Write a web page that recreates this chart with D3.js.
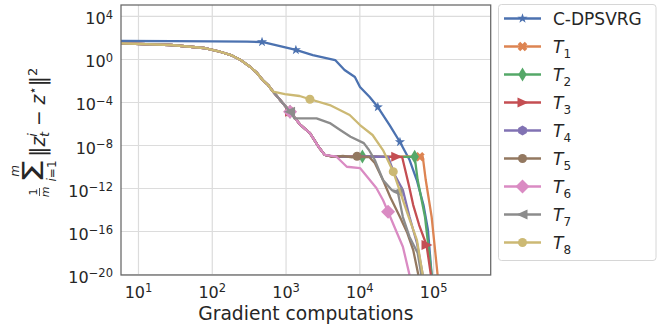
<!DOCTYPE html>
<html>
<head>
<meta charset="utf-8">
<script src="https://cdn.jsdelivr.net/npm/d3@7"></script>
<style>
  body { margin: 0; background: #fff; }
  svg { font-family: 'DejaVu Sans', sans-serif; }
</style>
</head>
<body>
<div id="chart"></div>
<script>
// tick exponents (labels are 10^e)
const xTickExps = [1, 2, 3, 4, 5];
const yTickExps = [4, 0, -4, -8, -12, -16, -20];

// [gradient computations, error]
const cdpsvrg = [[5, 47], [30, 46], [100, 44], [300, 41], [480, 38], [1380, 6.9], [2340, 2.3],
  [4700, 0.8], [6300, 0.095], [8700, 0.021], [10200, 2.5e-3], [13800, 2.9e-4], [17800, 3.4e-5],
  [25700, 7.2e-7], [35500, 1.9e-8], [48000, 4e-10], [60000, 5.5e-12], [74000, 2.6e-14],
  [85000, 1.3e-16], [95500, 8e-21]];

// part shared by every T_k run
const warmup = [[5, 29], [28, 20], [78, 10.5], [120, 5.5], [182, 2.3], [250, 0.75], [330, 0.19],
  [410, 0.05], [490, 1.1e-2], [580, 3.8e-3], [680, 9e-4]];
// shared by T_1 .. T_7
const split = [[1150, 1.26e-5]];
// shared by T_1 .. T_6
const earlyDrop = [[1550, 8.9e-7], [2140, 1.3e-7], [2880, 5.2e-9], [3390, 1.2e-9]];

const t1Tail = [[4500, 8e-10], [20000, 8e-10], [45000, 8.5e-10], [66100, 8e-10], [72400, 8e-10],
  [79400, 5.5e-12], [95500, 2e-15], [115000, 8e-21]];
const t2Tail = [[4500, 8e-10], [11000, 8.5e-10], [25000, 8e-10], [56200, 8e-10], [61700, 5.5e-12],
  [77600, 2e-15], [95500, 8e-21]];
const t3Tail = [[4500, 8e-10], [10000, 8.5e-10], [20000, 8e-10], [31600, 8e-10], [38000, 7.5e-10],
  [46800, 1.9e-12], [53700, 2.6e-14], [64600, 3.6e-16], [81300, 5e-18], [93300, 8e-21]];
const t4Tail = [[4500, 8.5e-10], [8000, 8e-10], [14000, 8.5e-10], [24500, 8e-10], [30200, 1.6e-11],
  [38900, 6.5e-13], [47900, 2e-15], [60300, 7.6e-18], [72400, 8e-21]];
const t5Tail = [[4500, 8e-10], [6000, 9.5e-10], [8000, 7e-10], [9300, 9e-10], [12000, 7.5e-10],
  [13500, 8e-10], [16200, 2.1e-10], [20900, 5.5e-12], [26300, 1.4e-13], [35500, 2e-15],
  [44700, 6.5e-17], [53700, 1.7e-18], [63100, 8e-21]];
const t6Tail = [[4900, 8.1e-10], [6760, 9.5e-11], [10200, 7.2e-11], [17000, 1e-12], [20900, 7.6e-14],
  [24500, 6.3e-15], [32400, 6.5e-17], [38900, 3.5e-18], [47900, 8e-21]];
const t7Tail = [[1320, 3e-6], [2630, 3e-6], [3980, 1.1e-6], [5500, 2.5e-7], [7600, 5.9e-8],
  [11500, 1.5e-8], [13500, 3.4e-9], [16200, 4e-10], [20900, 5.5e-12], [27500, 6.5e-13],
  [33100, 4.6e-13], [38900, 2e-15], [47900, 2.8e-17], [61700, 9e-19], [69200, 8e-21]];
const t8Tail = [[980, 5.5e-4], [1550, 3.6e-4], [2140, 1.8e-4], [3980, 5.2e-5], [7400, 6.2e-6],
  [10200, 7.2e-7], [15100, 8.5e-8], [20900, 3.4e-9], [28800, 3.3e-11], [44700, 4.7e-15],
  [60300, 1.4e-17], [72400, 8e-21]];

const names = ['C-DPSVRG', 'T_1', 'T_2', 'T_3', 'T_4', 'T_5', 'T_6', 'T_7', 'T_8'];
const seriesPoints = [
  cdpsvrg,
  [...warmup, ...split, ...earlyDrop, ...t1Tail],
  [...warmup, ...split, ...earlyDrop, ...t2Tail],
  [...warmup, ...split, ...earlyDrop, ...t3Tail],
  [...warmup, ...split, ...earlyDrop, ...t4Tail],
  [...warmup, ...split, ...earlyDrop, ...t5Tail],
  [...warmup, ...split, ...earlyDrop, ...t6Tail],
  [...warmup, ...split, ...t7Tail],
  [...warmup, ...t8Tail]
];
// x positions where a marker sits
const markAt = [
  [480, 1380, 17800, 35500],
  [1150, 66100],
  [1150, 11000, 56200],
  [1150, 31600, 81300],
  [1150],
  [1150, 9300],
  [1150, 24500],
  [1150, 33100],
  [2140, 28800]
];

const colors = ['#4c72b0', '#dd8452', '#55a868', '#c44e52', '#8172b3', '#937860', '#da8bc3', '#8c8c8c', '#ccb974'];
const shapes = ['star', 'X', 'd', '>', 'h', 'o', 'D', '<', 'o'];

const W = 666, H = 328;
const plot = { left: 121, right: 490.7, top: 5, bottom: 275 };

const svg = d3.select('#chart').append('svg')
  .attr('width', W).attr('height', H);

const x = d3.scaleLog()
  .domain([Math.pow(10, 0.77), Math.pow(10, 5.78)])
  .range([plot.left, plot.right]);
const y = d3.scaleLog()
  .domain([Math.pow(10, -20.09), Math.pow(10, 5.02)])
  .range([plot.bottom, plot.top]);

function markerPath(shape) {
  const p = d3.path();
  const poly = pts => { pts.forEach((q, i) => i ? p.lineTo(q[0], q[1]) : p.moveTo(q[0], q[1])); p.closePath(); };
  if (shape === 'o') { p.arc(0, 0, 4.5, 0, 2 * Math.PI); return p.toString(); }
  if (shape === 'star') {
    const pts = [];
    for (let i = 0; i < 10; i++) {
      const r = i % 2 ? 2.1 : 5.3;
      const a = -Math.PI / 2 + i * Math.PI / 5;
      pts.push([r * Math.cos(a), r * Math.sin(a)]);
    }
    poly(pts);
  } else if (shape === 'X') {
    const a = 5, b = 1.8;
    const base = [[-b, -a], [b, -a], [b, -b], [a, -b], [a, b], [b, b], [b, a], [-b, a], [-b, b], [-a, b], [-a, -b], [-b, -b]];
    const c = Math.SQRT1_2;
    poly(base.map(q => [c * (q[0] - q[1]), c * (q[0] + q[1])]));
  } else if (shape === 'd') {
    poly([[0, -7], [4.2, 0], [0, 7], [-4.2, 0]]);
  } else if (shape === 'D') {
    poly([[0, -7], [7, 0], [0, 7], [-7, 0]]);
  } else if (shape === '>') {
    poly([[6, 0], [-5, -5], [-5, 5]]);
  } else if (shape === '<') {
    poly([[-6, 0], [5, -5], [5, 5]]);
  } else if (shape === 'h') {
    const pts = [];
    for (let i = 0; i < 6; i++) {
      const a = -Math.PI / 2 + i * Math.PI / 3;
      pts.push([5 * Math.cos(a), 5 * Math.sin(a)]);
    }
    poly(pts);
  }
  return p.toString();
}

function supLabel(sel) {
  sel.each(function (d) {
    const e = Math.round(Math.log10(d));
    const t = d3.select(this);
    t.text(null);
    t.append('tspan').text('10');
    t.append('tspan').attr('dy', '-0.5em').attr('font-size', '11.5px')
      .text(e < 0 ? '\u2212' + (-e) : String(e));
  });
}

// grid
svg.append('g')
  .attr('transform', `translate(0, ${plot.bottom})`)
  .call(d3.axisBottom(x).tickValues(xTickExps.map(e => Math.pow(10, e)))
    .tickSize(-(plot.bottom - plot.top)).tickFormat(''))
  .call(g => g.select('.domain').remove())
  .call(g => g.selectAll('line').attr('stroke', '#dcdcdc').attr('stroke-width', 1.2));
svg.append('g')
  .attr('transform', `translate(${plot.left}, 0)`)
  .call(d3.axisLeft(y).tickValues(yTickExps.map(e => Math.pow(10, e)))
    .tickSize(-(plot.right - plot.left)).tickFormat(''))
  .call(g => g.select('.domain').remove())
  .call(g => g.selectAll('line').attr('stroke', '#dcdcdc').attr('stroke-width', 1.2));

// lines
svg.append('clipPath').attr('id', 'clip')
  .append('rect')
  .attr('x', plot.left).attr('y', plot.top)
  .attr('width', plot.right - plot.left).attr('height', plot.bottom - plot.top);

const line = d3.line().x(d => x(d[0])).y(d => y(d[1]));
const chart = svg.append('g').attr('clip-path', 'url(#clip)');

seriesPoints.forEach((pts, i) => {
  const g = chart.append('g');
  g.append('path')
    .attr('d', line(pts))
    .attr('fill', 'none')
    .attr('stroke', colors[i])
    .attr('stroke-width', 2.3)
    .attr('stroke-linejoin', 'round');
  const marks = pts.filter(p => markAt[i].includes(p[0]));
  g.selectAll('path.mk')
    .data(marks)
    .enter()
    .append('path')
    .attr('class', 'mk')
    .attr('d', markerPath(shapes[i]))
    .attr('transform', d => `translate(${x(d[0])}, ${y(d[1])})`)
    .attr('fill', colors[i]);
});

// frame
svg.append('rect')
  .attr('x', plot.left).attr('y', plot.top)
  .attr('width', plot.right - plot.left).attr('height', plot.bottom - plot.top)
  .attr('fill', 'none').attr('stroke', '#666').attr('stroke-width', 1.25);

// tick labels
svg.append('g')
  .attr('transform', `translate(0, ${plot.bottom})`)
  .call(d3.axisBottom(x).tickValues(xTickExps.map(e => Math.pow(10, e))).tickSize(0))
  .call(g => g.select('.domain').remove())
  .call(g => g.selectAll('text')
    .attr('y', 23).attr('dy', 0)
    .attr('font-size', '16px').attr('font-family', 'DejaVu Sans').attr('fill', '#262626')
    .call(supLabel));

svg.append('g')
  .attr('transform', `translate(${plot.left}, 0)`)
  .call(d3.axisLeft(y).tickValues(yTickExps.map(e => Math.pow(10, e))).tickSize(0).tickPadding(8))
  .call(g => g.select('.domain').remove())
  .call(g => g.selectAll('text')
    .attr('dy', '0.5em')
    .attr('font-size', '16px').attr('font-family', 'DejaVu Sans').attr('fill', '#262626')
    .call(supLabel));

// x axis title
svg.append('text')
  .attr('x', (plot.left + plot.right) / 2)
  .attr('y', 320)
  .attr('text-anchor', 'middle')
  .attr('font-size', '18.7px')
  .attr('fill', '#262626')
  .text('Gradient computations');

// y axis title: (1/m) sum_{i=1}^m ||z_t^i - z*||^2
const yl = svg.append('g')
  .attr('transform', 'translate(45, 140) rotate(-90)')
  .attr('fill', '#262626');
yl.append('text').attr('x', -52).attr('y', -8).attr('text-anchor', 'middle').attr('font-size', '11px').text('1');
yl.append('line').attr('x1', -56).attr('x2', -48).attr('y1', -5.5).attr('y2', -5.5)
  .attr('stroke', '#262626').attr('stroke-width', 0.8);
yl.append('text').attr('x', -52).attr('y', 4).attr('text-anchor', 'middle').attr('font-size', '11px')
  .attr('font-style', 'italic').text('m');
yl.append('text').attr('x', -43).attr('y', -2).attr('font-size', '29px')
  .attr('textLength', 24).attr('lengthAdjust', 'spacingAndGlyphs').text('\u03a3');
yl.append('text').attr('x', -31).attr('y', -26).attr('text-anchor', 'middle').attr('font-size', '12px')
  .attr('font-style', 'italic').text('m');
const lim = yl.append('text').attr('x', -31).attr('y', 11).attr('text-anchor', 'middle').attr('font-size', '12px');
lim.append('tspan').attr('font-style', 'italic').text('i');
lim.append('tspan').text('=1');

const main = yl.append('text').attr('x', -17).attr('y', 0).attr('font-size', '18.7px');
main.append('tspan').attr('font-size', '21px').text('\u2016');
main.append('tspan').attr('font-style', 'italic').text('z');
main.append('tspan').attr('font-style', 'italic').attr('font-size', '13px').attr('dy', -8).text('i');
main.append('tspan').attr('font-style', 'italic').attr('font-size', '13px').attr('dx', -4).attr('dy', 12).text('t');
main.append('tspan').attr('dy', -4).text(' \u2212 ');
main.append('tspan').attr('font-style', 'italic').text('z');
main.append('tspan').attr('font-size', '13px').attr('dy', -8).text('\u22c6');
main.append('tspan').attr('font-size', '21px').attr('dy', 8).text('\u2016');
main.append('tspan').attr('font-size', '13px').attr('dy', -8).text('2');

// legend
const lg = svg.append('g');
lg.append('rect')
  .attr('x', 498.5).attr('y', 4.5).attr('width', 157.5).attr('height', 256)
  .attr('rx', 3).attr('fill', '#fff').attr('stroke', '#d6d6d6').attr('stroke-width', 1);
names.forEach((name, i) => {
  const cy = 18.5 + i * 28;
  const row = lg.append('g');
  row.append('line').attr('x1', 504).attr('x2', 541).attr('y1', cy).attr('y2', cy)
    .attr('stroke', colors[i]).attr('stroke-width', 2.3);
  row.append('path').attr('d', markerPath(shapes[i]))
    .attr('transform', `translate(522.5, ${cy})`).attr('fill', colors[i]);
  const t = row.append('text').attr('x', 553).attr('y', cy + 6).attr('font-size', '17px').attr('fill', '#262626');
  if (name.includes('_')) {
    const [base, sub] = name.split('_');
    t.append('tspan').attr('font-style', 'italic').text(base);
    t.append('tspan').attr('font-size', '12px').attr('dy', 5).text(sub);
  } else {
    t.text(name);
  }
});
</script>
</body>
</html>
